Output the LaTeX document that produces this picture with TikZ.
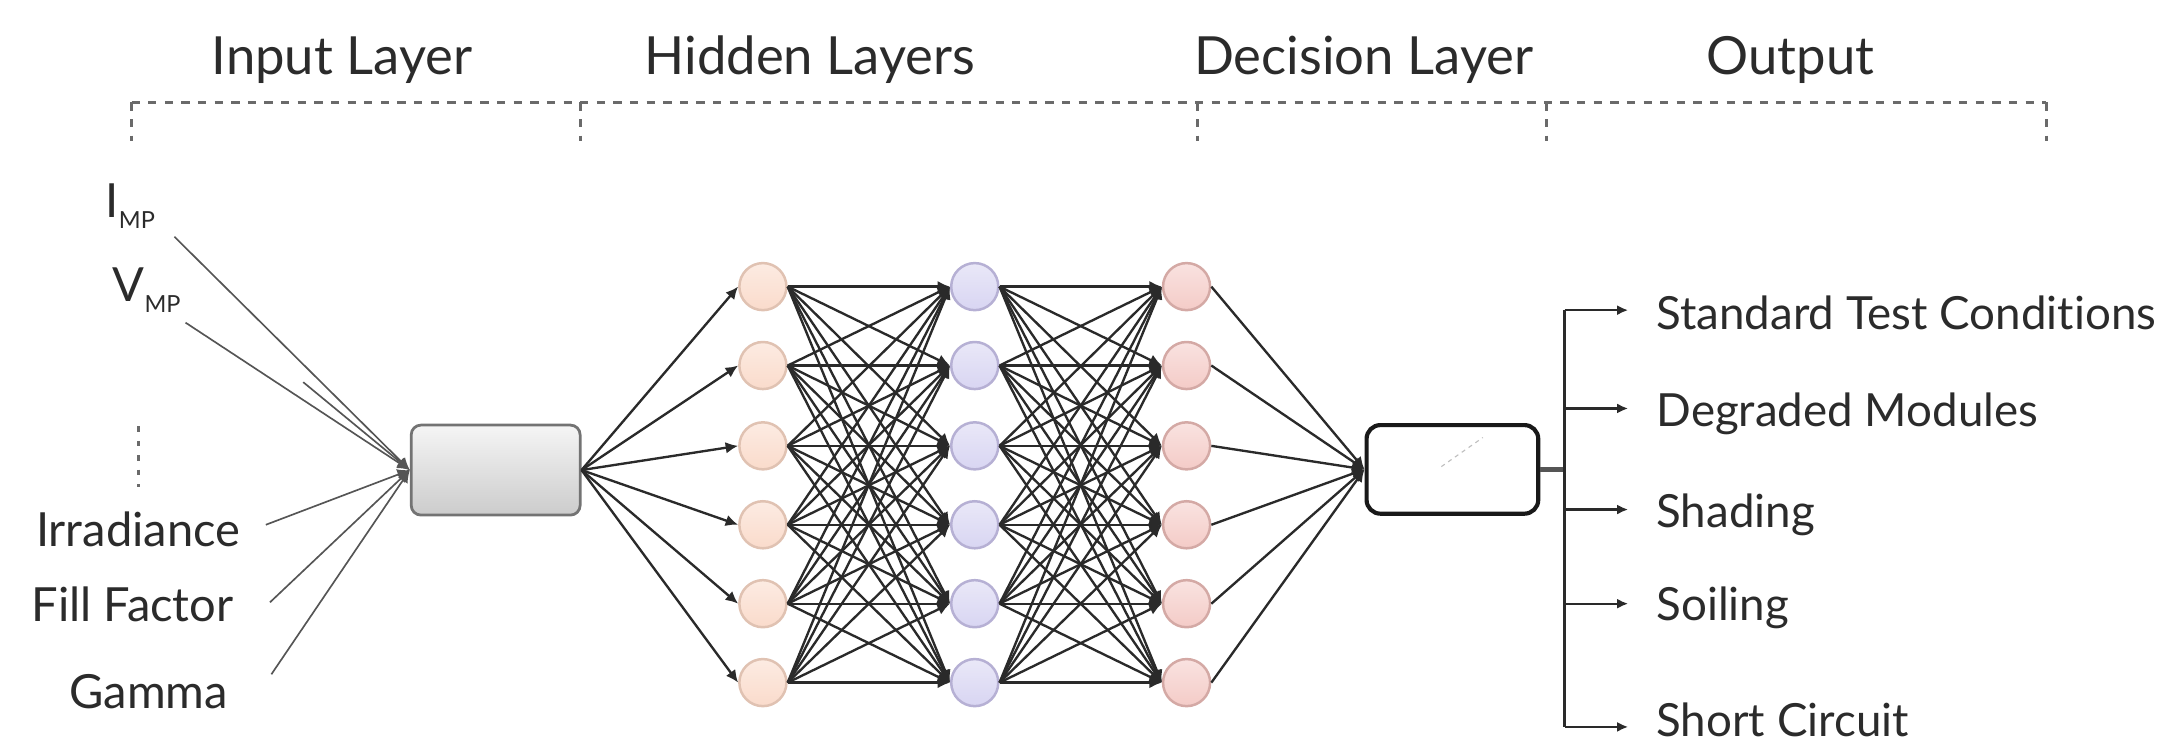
\documentclass[tikz,border=0pt]{standalone}
\usepackage{fontspec}
\setmainfont{Lato}[Ligatures=NoCommon]
\usetikzlibrary{arrows.meta}

\definecolor{txt}{HTML}{2B2B2B}
\definecolor{wire}{HTML}{2A2A2A}
\definecolor{inwire}{HTML}{555555}
\definecolor{guide}{HTML}{6A6A6A}
\definecolor{orfill}{HTML}{FADBCB}
\definecolor{orline}{HTML}{E0C2B2}
\definecolor{pufill}{HTML}{D8D5F2}
\definecolor{puline}{HTML}{B6B0D4}
\definecolor{pkfill}{HTML}{F4CBC7}
\definecolor{pkline}{HTML}{D4A9A5}

\begin{document}
\begin{tikzpicture}[x=0.5pt,y=-0.5pt,
  header/.style={font=\fontsize{19}{22}\selectfont, text=txt, anchor=base, inner sep=0pt},
  inlabel/.style={font=\fontsize{17}{20}\selectfont, text=txt, inner sep=0pt},
  outlabel/.style={font=\fontsize{16.5}{20}\selectfont, text=txt, anchor=base west, inner sep=0pt},
  bracket/.style={draw=guide, line width=1pt, dash pattern=on 3pt off 3pt},
  neuron/.style={circle, minimum size=17pt, inner sep=0pt, line width=0.9pt},
  orneuron/.style={neuron, draw=orline, top color=orfill!55!white, bottom color=orfill},
  puneuron/.style={neuron, draw=puline, top color=pufill!55!white, bottom color=pufill},
  pkneuron/.style={neuron, draw=pkline, top color=pkfill!55!white, bottom color=pkfill},
  conn/.style={draw=wire, line width=0.85pt, -{Latex[length=4.5pt,width=4.2pt]}},
  inconn/.style={draw=inwire, line width=0.6pt, -{Latex[length=4.5pt,width=4.2pt]}},
  outconn/.style={draw=wire, line width=0.8pt, -{Latex[length=4pt,width=3.6pt]}},
]
\useasboundingbox (0,0) rectangle (1568,538);

% ---- layer headings and dotted brackets ----
\node[header] (hin)  at (247,54)  {Input Layer};
\node[header] (hhid) at (585,54)  {Hidden Layers};
\node[header] (hdec) at (985,54)  {Decision Layer};
\node[header] (hout) at (1293,54) {Output};

\foreach \n/\x in {k1/95,k2/419,k3/865,k4/1117,k5/1478} {
  \coordinate (\n) at (\x,74);
  \coordinate (\n b) at (\x,102);
  \draw[bracket] (\n) -- (\n b);
}
\draw[bracket] (k1) -- (k5);

% ---- input labels ----
\node[inlabel, anchor=base west] (imp) at (76,157)
  {I{\fontsize{8.5}{10}\selectfont\raisebox{-4pt}{MP}}};
\node[inlabel, anchor=base west] (vmp) at (81,218)
  {V{\fontsize{8.5}{10}\selectfont\raisebox{-4pt}{MP}}};
\node[inlabel, anchor=base east] (irr) at (174,395) {Irradiance};
\node[inlabel, anchor=base east] (ff)  at (169,449) {Fill Factor};
\node[inlabel, anchor=base east] (gam) at (165,512) {Gamma};

\coordinate (d1) at (100,308);
\coordinate (d2) at (100,352);
\draw[draw=guide, line width=1.2pt, dash pattern=on 2pt off 3.2pt] (d1) -- (d2);

% ---- input box ----
\node[draw=black!55, line width=1pt, rounded corners=3.5pt,
      minimum width=61pt, minimum height=32.5pt, inner sep=0pt,
      top color=black!4, bottom color=black!20] (inbox) at (358,339.5) {};

\coordinate (sImp) at (126,171);
\coordinate (sVmp) at (134,233);
\coordinate (sDot) at (219,276);
\coordinate (sIrr) at (192,379);
\coordinate (sFF)  at (195,435);
\coordinate (sGam) at (196,487);
\foreach \s in {sImp,sVmp,sDot,sIrr,sFF,sGam}
  \draw[inconn] (\s) -- (inbox.west);

% ---- neurons ----
\foreach \i/\y in {1/207,2/264,3/322,4/379,5/436,6/493} {
  \node[orneuron] (o\i) at (551,\y) {};
  \node[puneuron] (p\i) at (704,\y) {};
  \node[pkneuron] (r\i) at (857,\y) {};
}

% ---- decision box ----
\node[draw=black!90, line width=1.5pt, rounded corners=5pt, fill=white,
      minimum width=62pt, minimum height=32pt, inner sep=0pt] (dbox) at (1049,339) {};
\coordinate (sc1) at (1041,337);
\coordinate (sc2) at (1071,316);
\draw[black!25, line width=0.4pt, dash pattern=on 1.5pt off 1.5pt] (sc1) -- (sc2);

% ---- connections ----
\foreach \i in {1,...,6}
  \draw[conn] (inbox.east) -- (o\i.west);
\foreach \i in {1,...,6}
  \foreach \j in {1,...,6} {
    \draw[conn] (o\i.east) -- (p\j.west);
    \draw[conn] (p\i.east) -- (r\j.west);
  }
\foreach \i in {1,...,6}
  \draw[conn] (r\i.east) -- (dbox.west);

% ---- outputs ----
\coordinate (jn) at (1130,339);
\coordinate (vt) at (1130,224);
\coordinate (vb) at (1130,525);
\draw[draw=wire!80, line width=1.8pt] (dbox.east) -- (jn);
\draw[draw=wire, line width=0.9pt] (vt) -- (vb);

\foreach \n/\y/\b/\t in {
    stc/224/238/Standard Test Conditions,
    deg/295/308/Degraded Modules,
    sha/368/381/Shading,
    soi/436/448/Soiling,
    sho/525/532/Short Circuit} {
  \coordinate (b\n) at (1130,\y);
  \coordinate (t\n) at (1176,\y);
  \draw[outconn] (b\n) -- (t\n);
  \node[outlabel] (l\n) at (1196,\b) {\t};
}
\end{tikzpicture}
\end{document}
